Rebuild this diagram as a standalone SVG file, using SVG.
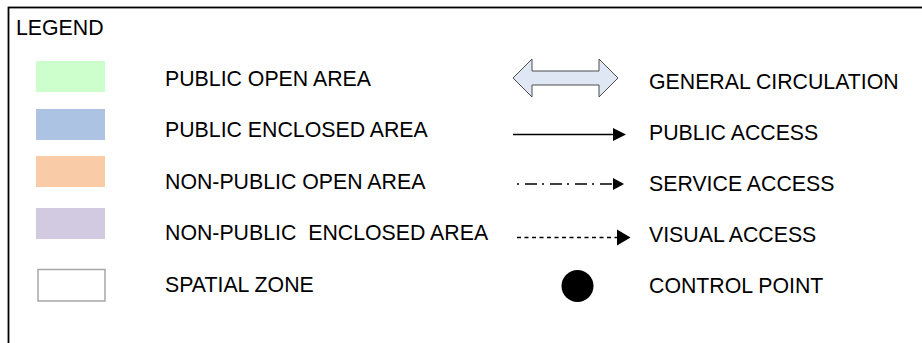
<svg xmlns="http://www.w3.org/2000/svg" width="922" height="343" viewBox="0 0 922 343">
  <style>
    text { font-family: "Liberation Sans", Arial, sans-serif; font-size: 21.3px; fill: #000; white-space: pre; }
    .sw { stroke: none; }
    .conn { fill: none; stroke: #000; stroke-width: 1.4; }
  </style>
  <defs>
    <marker id="headA" markerUnits="userSpaceOnUse" markerWidth="13" markerHeight="14" refX="0" refY="6.5" orient="auto" overflow="visible">
      <path d="M0,0 L13,6.5 L0,13 Z" fill="#000"/>
    </marker>
    <marker id="headB" markerUnits="userSpaceOnUse" markerWidth="12" markerHeight="13" refX="0" refY="6" orient="auto" overflow="visible">
      <path d="M0,0 L11,6 L0,12 Z" fill="#000"/>
    </marker>
    <marker id="headC" markerUnits="userSpaceOnUse" markerWidth="14" markerHeight="17" refX="0" refY="8" orient="auto" overflow="visible">
      <path d="M0,0 L13.5,8 L0,16 Z" fill="#000"/>
    </marker>
  </defs>

  <rect x="0" y="0" width="922" height="343" fill="#fff"/>
  <rect id="frame" x="8.5" y="7.5" width="940" height="400" fill="none" stroke="#000" stroke-width="1.8"/>

  <text id="legend-title" x="16" y="35">LEGEND</text>

  <g id="public-open-area">
    <rect class="sw" x="36" y="61" width="69" height="31" fill="#ccffcc"/>
    <text x="165" y="86">PUBLIC OPEN AREA</text>
  </g>
  <g id="public-enclosed-area">
    <rect class="sw" x="36" y="109" width="69" height="31" fill="#adc3e3"/>
    <text x="165" y="137">PUBLIC ENCLOSED AREA</text>
  </g>
  <g id="non-public-open-area">
    <rect class="sw" x="36" y="156" width="69" height="31" fill="#f9cba6"/>
    <text x="165" y="189">NON-PUBLIC OPEN AREA</text>
  </g>
  <g id="non-public-enclosed-area">
    <rect class="sw" x="36" y="208" width="69" height="31" fill="#d2cae0"/>
    <text x="165" y="240">NON-PUBLIC  ENCLOSED AREA</text>
  </g>
  <g id="spatial-zone">
    <rect x="38" y="269.5" width="67" height="31.5" fill="#fff" stroke="#a6a6a6" stroke-width="1.5"/>
    <text x="165" y="292">SPATIAL ZONE</text>
  </g>

  <g id="general-circulation">
    <polygon points="513,78 532,59 532,71 599,71 599,59 618,78 599,97 599,85 532,85 532,97" fill="#dfe7f5" stroke="#4d4d4d" stroke-width="1"/>
    <text x="649" y="89">GENERAL CIRCULATION</text>
  </g>

  <g id="connectors">
    <line class="conn" x1="513" y1="134.5" x2="613" y2="134.5" marker-end="url(#headA)"/>
    <line class="conn" x1="517" y1="184" x2="613" y2="184" stroke-dasharray="2,6,12,5" marker-end="url(#headB)"/>
    <line class="conn" x1="517" y1="237.5" x2="617" y2="237.5" stroke-width="2.6" stroke-dasharray="4,3.5" marker-end="url(#headC)"/>
  </g>

  <g id="public-access">
    <text x="649" y="140">PUBLIC ACCESS</text>
  </g>
  <g id="service-access">
    <text x="649" y="191">SERVICE ACCESS</text>
  </g>
  <g id="visual-access">
    <text x="649" y="242">VISUAL ACCESS</text>
  </g>
  <g id="control-point">
    <circle cx="577.5" cy="286" r="16" fill="#000"/>
    <text x="649" y="293">CONTROL POINT</text>
  </g>
</svg>
